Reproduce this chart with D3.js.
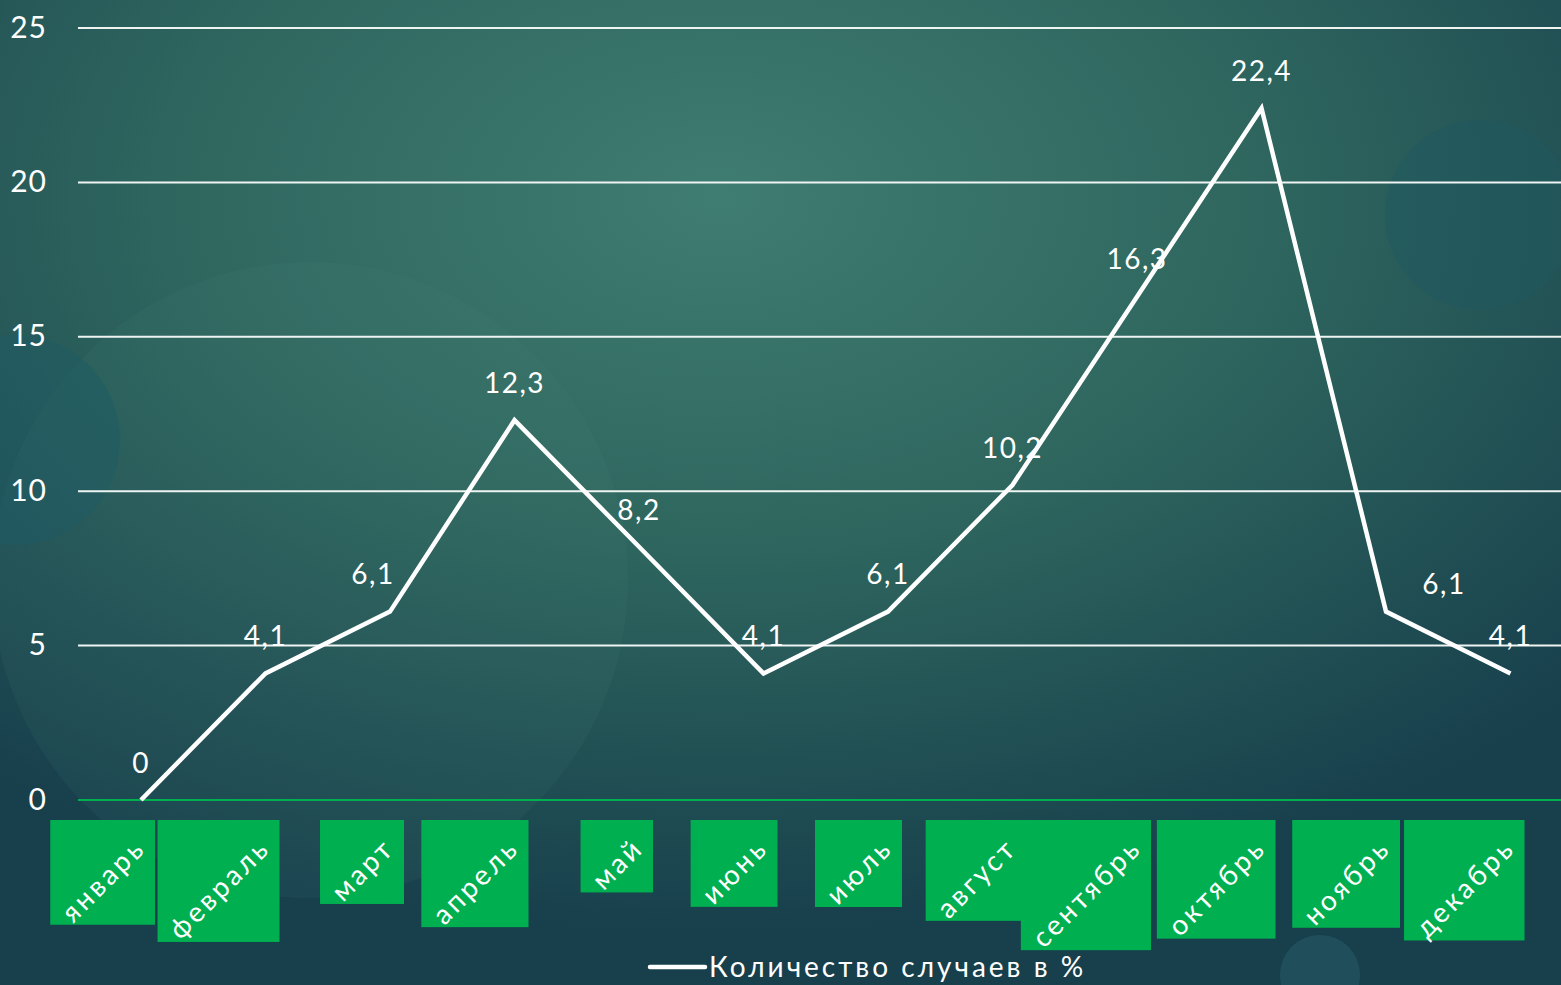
<!DOCTYPE html>
<html>
<head>
<meta charset="utf-8">
<script src="https://cdn.jsdelivr.net/npm/d3@7"></script>
<style>
  html, body { margin: 0; padding: 0; overflow: hidden; background: #1d4a54; }
  text { font-family: "Lato", "Noto Sans", sans-serif; }
</style>
</head>
<body>
<script>
let width = 1561;
let height = 985;

// chart data
let months = ["январь", "февраль", "март", "апрель", "май", "июнь",
  "июль", "август", "сентябрь", "октябрь", "ноябрь", "декабрь"];
let cases = [0, 4.1, 6.1, 12.3, 8.2, 4.1, 6.1, 10.2, 16.3, 22.4, 6.1, 4.1];
let yTicks = [0, 5, 10, 15, 20, 25];
let seriesName = "Количество случаев в %";

let lineColor = "#ffffff";
let boxColor = "#00b050";
let fontSize = 28;

let svg = d3
  .select("body")
  .append("svg")
  .attr("width", width)
  .attr("height", height);

// background
let defs = svg.append("defs");
let bg = defs
  .append("radialGradient")
  .attr("id", "bg")
  .attr("cx", 0.46)
  .attr("cy", 0.2)
  .attr("r", 0.75);
bg.append("stop").attr("offset", "0%").attr("stop-color", "#3f7c71");
bg.append("stop").attr("offset", "45%").attr("stop-color", "#2f675f");
bg.append("stop").attr("offset", "100%").attr("stop-color", "#173f4c");

svg.append("rect").attr("width", width).attr("height", height).attr("fill", "url(#bg)");

// faint circles in the background
let bubbles = [
  { cx: 310, cy: 580, r: 318, fill: "#4a8a80", op: 0.1 },
  { cx: 15, cy: 440, r: 105, fill: "#1d5a66", op: 0.45 },
  { cx: 1480, cy: 215, r: 95, fill: "#1e5862", op: 0.45 },
  { cx: 1320, cy: 975, r: 40, fill: "#2a5f6a", op: 0.5 }
];
svg
  .selectAll(".bubble")
  .data(bubbles)
  .enter()
  .append("circle")
  .attr("cx", d => d.cx)
  .attr("cy", d => d.cy)
  .attr("r", d => d.r)
  .attr("fill", d => d.fill)
  .attr("opacity", d => d.op);

let x = d3.scalePoint().domain(months).range([141, 1510.5]);
let y = d3.scaleLinear().domain([0, 25]).range([800, 28]);

// gridlines
svg
  .selectAll(".grid")
  .data(yTicks)
  .enter()
  .append("line")
  .attr("x1", 78)
  .attr("x2", width)
  .attr("y1", d => y(d))
  .attr("y2", d => y(d))
  .attr("stroke", d => (d === 0 ? boxColor : "#eef4f2"))
  .attr("stroke-width", 2);

// y axis labels
let yAxis = d3.axisLeft(y).tickValues(yTicks).tickSize(0).tickPadding(0);
let yG = svg.append("g").attr("transform", "translate(47,0)").call(yAxis);
yG.select(".domain").remove();
yG
  .selectAll("text")
  .attr("fill", "#ffffff")
  .attr("font-size", 30)
  .attr("font-family", "Lato, 'Noto Sans', sans-serif")
  .attr("letter-spacing", 1)
  .attr("dy", "0.3em");

// month labels with green boxes
let labelGroups = svg
  .selectAll(".month")
  .data(months)
  .enter()
  .append("g")
  .attr("class", "month");

labelGroups.each(function(d) {
  let g = d3.select(this);
  let tx = x(d) + 14;
  let box = g.append("rect").attr("fill", boxColor);
  let t = g
    .append("text")
    .text(d)
    .attr("fill", "#ffffff")
    .attr("font-size", fontSize)
    .attr("letter-spacing", 3)
    .attr("text-anchor", "end");
  let len = t.node().getComputedTextLength();
  let side = (len + fontSize * 0.75) / Math.SQRT2 + 16;
  box
    .attr("x", tx - side)
    .attr("y", 820)
    .attr("width", side)
    .attr("height", side);
  // text end near the top-right corner of its box
  let ex = tx - 8;
  let ey = 820 + 30;
  t.attr("transform", "translate(" + ex + "," + ey + ") rotate(-45)");
});

// series line
let line = d3
  .line()
  .x((d, i) => x(months[i]))
  .y(d => y(d));

svg
  .append("path")
  .datum(cases)
  .attr("d", line)
  .attr("fill", "none")
  .attr("stroke", lineColor)
  .attr("stroke-width", 4.5)
  .attr("stroke-linejoin", "miter");

// value labels, mostly above the point
let shiftX = { 2: -17, 10: 58 };
let shiftY = { 10: 10 };
svg
  .selectAll(".value")
  .data(cases)
  .enter()
  .append("text")
  .attr("x", (d, i) => x(months[i]) + (shiftX[i] || 0))
  .attr("y", (d, i) => y(d) - 37 + (shiftY[i] || 0))
  .attr("dy", "0.35em")
  .attr("text-anchor", "middle")
  .attr("fill", "#ffffff")
  .attr("font-size", 28)
  .attr("letter-spacing", 1.5)
  .text(d => String(d).replace(".", ","));

// legend
let legend = svg.append("g").attr("transform", "translate(650,967)");
legend
  .append("line")
  .attr("x1", 0)
  .attr("x2", 55)
  .attr("stroke", lineColor)
  .attr("stroke-width", 4.5)
  .attr("stroke-linecap", "round");
legend
  .append("text")
  .attr("x", 59)
  .attr("dy", "0.35em")
  .attr("fill", "#ffffff")
  .attr("font-size", 28)
  .attr("letter-spacing", 3)
  .text(seriesName);
</script>
</body>
</html>
